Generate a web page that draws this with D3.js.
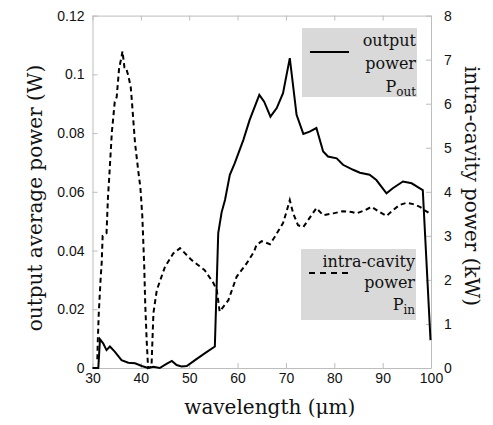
<!DOCTYPE html>
<html><head><meta charset="utf-8">
<script src="https://cdn.jsdelivr.net/npm/d3@7"></script>
<style>body{margin:0;background:#fff}svg{display:block}</style>
</head><body>
<script>
// ---- data ----
const outWavelength = [30,31.2,31.55,32.2,32.9,33.6,34.6,36.0,37.4,38.8,40.2,41.5,42.6,43.9,45.3,46.4,47.4,48.4,49.5,51.2,53.2,55.3,56.0,56.7,57.4,58.4,59.4,61.2,62.5,64.5,65.5,66.8,68.1,69.4,70.8,72.2,73.6,74.9,76.3,77.7,78.7,80.5,81.8,83.9,85.3,87.3,88.7,90.8,92.1,94.2,96.0,97.7,98.3,99.9];
const outPower = [0,0,0.0098,0.0084,0.0061,0.0073,0.0056,0.0027,0.0018,0.0016,0.0007,0,0.0004,0,0.0014,0.0024,0.0010,0.0005,0.0007,0.0027,0.0050,0.0073,0.0459,0.0530,0.0572,0.0658,0.0697,0.0777,0.0845,0.0930,0.0907,0.0856,0.0885,0.0936,0.1055,0.0862,0.0797,0.0805,0.0817,0.0737,0.0720,0.0714,0.0692,0.0675,0.0665,0.0658,0.0640,0.0595,0.0612,0.0635,0.0629,0.0612,0.0606,0.0095];
const inWavelength = [31.0,31.1,31.3,31.7,31.9,32.1,32.9,33.2,33.4,34.0,34.6,35.0,35.5,36.0,36.2,36.6,36.9,37.4,37.9,38.1,38.8,39.5,39.9,40.3,40.7,40.9,41.2,41.5,42.2,42.6,43.3,45.0,46.7,48.1,50.5,53.2,55.0,55.7,56.3,58.1,59.8,61.9,63.4,63.9,65.0,66.7,67.7,69.4,70.1,70.8,71.5,72.5,73.6,74.6,76.3,77.7,79.8,81.8,83.6,84.6,86.3,87.7,89.4,90.8,92.1,93.5,94.9,96.3,97.7,98.7,99.7];
const inPower = [0.2,0.63,1.25,2.07,2.38,3.0,3.06,3.88,4.22,5.35,6.04,6.15,6.8,7.06,7.19,6.83,6.83,6.64,6.38,6.12,5.1,4.44,4.1,3.45,2.3,1.47,0.63,0,0.03,1.25,1.77,2.3,2.6,2.72,2.45,2.22,1.93,1.77,1.28,1.54,2.07,2.38,2.64,2.79,2.88,2.81,2.98,3.29,3.54,3.81,3.51,3.24,3.2,3.36,3.63,3.47,3.51,3.56,3.54,3.51,3.58,3.66,3.54,3.45,3.58,3.7,3.75,3.72,3.66,3.58,3.51];
const xTicks = [30,40,50,60,70,80,90,100];
const yLeftTicks = [0,0.02,0.04,0.06,0.08,0.1,0.12];
const yLeftLabels = ["0","0.02","0.04","0.06","0.08","0.1","0.12"];
const yRightTicks = [0,1,2,3,4,5,6,7,8];

const W = 493, H = 425;
const L = 92.5, R = 431, T = 15.6, B = 368;
const svg = d3.select("body").append("svg").attr("width", W).attr("height", H);

const x = d3.scaleLinear().domain([30,100]).range([L,R]);
const yL = d3.scaleLinear().domain([0,0.12]).range([B,T]);
const yR = d3.scaleLinear().domain([0,8]).range([B,T]);

const frameColor = "#bdbdbd";
const tickFont = "Liberation Sans, Arial, sans-serif";
const serif = "DejaVu Serif, serif";

function styleAxis(g, showLabels) {
  g.select(".domain").attr("stroke", frameColor).attr("stroke-width", 1);
  g.selectAll(".tick line").attr("stroke", frameColor);
  g.selectAll(".tick text").attr("fill", "#111").style("font-family", tickFont).style("font-size", "14px");
  if (!showLabels) g.selectAll(".tick text").remove();
}

svg.append("g").attr("transform", `translate(0,${B})`)
  .call(d3.axisBottom(x).tickValues(xTicks).tickSizeInner(-5).tickSizeOuter(0).tickPadding(5).tickFormat(d3.format("d")))
  .call(g => styleAxis(g, true));
svg.append("g").attr("transform", `translate(0,${T})`)
  .call(d3.axisTop(x).tickValues(xTicks).tickSizeInner(-5).tickSizeOuter(0))
  .call(g => styleAxis(g, false));
svg.append("g").attr("transform", `translate(${L},0)`)
  .call(d3.axisLeft(yL).tickValues(yLeftTicks).tickSizeInner(-5).tickSizeOuter(0).tickPadding(8).tickFormat((d,i) => yLeftLabels[i]))
  .call(g => styleAxis(g, true));
svg.append("g").attr("transform", `translate(${R},0)`)
  .call(d3.axisRight(yR).tickValues(yRightTicks).tickSizeInner(-5).tickSizeOuter(0).tickPadding(13).tickFormat(d3.format("d")))
  .call(g => styleAxis(g, true));

// lines
const lineOut = d3.line().x((d,i) => x(outWavelength[i])).y(d => yL(d));
const lineIn = d3.line().x((d,i) => x(inWavelength[i])).y(d => yR(d));

svg.append("path").datum(inPower).attr("d", lineIn).attr("fill","none")
  .attr("stroke","#000").attr("stroke-width",2).attr("stroke-dasharray","5,3.5");
svg.append("path").datum(outPower).attr("d", lineOut).attr("fill","none")
  .attr("stroke","#000").attr("stroke-width",2).attr("stroke-linejoin","miter");

// legends
function legend(x0, y0, w, h) {
  const g = svg.append("g");
  g.append("rect").attr("x", x0).attr("y", y0).attr("width", w).attr("height", h).attr("fill", "#d9d9d9");
  return g;
}
const lg1 = legend(302, 28, 115, 69);
lg1.append("line").attr("x1",310).attr("x2",349).attr("y1",52).attr("y2",52).attr("stroke","#000").attr("stroke-width",2);
const t1 = lg1.append("text").attr("text-anchor","end").style("font-family",serif).style("font-size","16px").attr("fill","#111");
t1.append("tspan").attr("x",416).attr("y",46).text("output");
t1.append("tspan").attr("x",416).attr("y",69).text("power");
const p1 = t1.append("tspan").attr("x",416).attr("y",92);
p1.text("P");
p1.append("tspan").attr("dy",4).style("font-size","12px").text("out");

const lg2 = legend(301, 249, 115, 71);
lg2.append("line").attr("x1",309).attr("x2",352).attr("y1",273).attr("y2",273).attr("stroke","#000").attr("stroke-width",2).attr("stroke-dasharray","6,5");
const t2 = lg2.append("text").attr("text-anchor","end").style("font-family",serif).style("font-size","16px").attr("fill","#111");
t2.append("tspan").attr("x",415).attr("y",267).text("intra-cavity");
t2.append("tspan").attr("x",415).attr("y",288).text("power");
const p2 = t2.append("tspan").attr("x",415).attr("y",310);
p2.text("P");
p2.append("tspan").attr("dy",4).style("font-size","12px").text("in");

// axis titles
svg.append("text").attr("transform", `translate(${(L+R)/2+8},414)`).attr("text-anchor","middle")
  .style("font-family",serif).style("font-size","20px").attr("fill","#111").text("wavelength (μm)");
svg.append("text").attr("transform", `translate(42,198) rotate(-90)`).attr("text-anchor","middle")
  .style("font-family",serif).style("font-size","20px").attr("fill","#111").text("output average power (W)");
svg.append("text").attr("transform", `translate(465,186) rotate(90)`).attr("text-anchor","middle")
  .style("font-family",serif).style("font-size","20px").attr("fill","#111").text("intra-cavity power (kW)");
</script>
</body></html>
